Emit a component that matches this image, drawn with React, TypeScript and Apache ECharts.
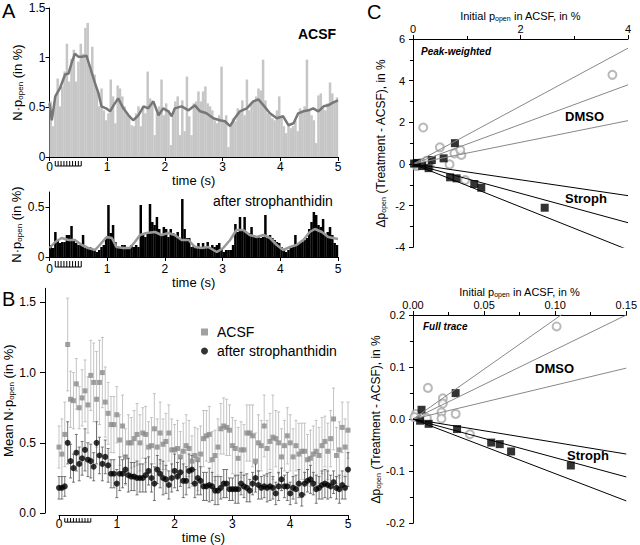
import React, { useEffect, useRef } from "react";
import * as echarts from "echarts";

const FONT = '"Liberation Sans", Arial, Helvetica, sans-serif';

// ---------- Panel A : single traces (40 ms bins) ----------
const BIN_A = 0.04;
const acsfTrace = [
  0.56, 0.31, 0.61, 0.79, 0.51, 0.71, 0.86, 1.14, 0.76, 0.99,
  1.08, 0.76, 0.96, 1.14, 1.04, 1.3, 1.35, 0.88, 1.11, 0.83,
  0.69, 0.51, 0.69, 0.47, 0.37, 0.44, 0.78, 0.61, 0.34, 0.72,
  0.69, 0.61, 0.51, 0.44, 0.42, 0.32, 0.31, 0.44, 0.51, 0.31,
  0.51, 0.44, 0.86, 0.59, 0.57, 0.22, 0.44, 0.51, 0.78, 0.42,
  0.54, 0.47, 0.12, 0.41, 0.56, 0.61, 0.22, 0.57, 0.26, 0.81,
  0.41, 0.22, 0.54,
  0.56, 0.66, 0.56, 0.66, 0.71, 0.54, 0.51, 0.47, 0.37, 0.34,
  0.42, 0.91, 0.37, 0.42, 0.1, 0.31, 0.39, 0.36, 0.49, 0.47,
  0.57, 0.42, 0.78, 0.47, 0.54, 0.57, 0.61, 0.69, 0.67, 0.98,
  0.57, 0.44, 0.42, 0.39, 0.37, 0.47, 0.61, 0.41, 0.31, 0.24,
  0.32, 0.29, 0.31, 0.37, 0.26, 0.49, 0.47, 0.51, 0.98, 0.47,
  0.42, 0.37, 0.14, 0.62, 0.64, 0.49, 0.47, 0.54,
  0.75, 0.64, 0.55, 0.6,
];
const strophTrace = [
  0.12, 0.09, 0.25, 0.17, 0.14, 0.15, 0.15, 0.22, 0.22, 0.31,
  0.17, 0.14, 0.12, 0.12, 0.22, 0.09, 0.09, 0.1, 0.07, 0.07,
  0.05, 0.07, 0.1, 0.12, 0.19, 0.52, 0.24, 0.32, 0.15, 0.1,
  0.09, 0.12, 0.12, 0.09, 0.1, 0.12, 0.1, 0.12, 0.1, 0.52,
  0.22, 0.2, 0.25, 0.53, 0.35, 0.32, 0.4, 0.28, 0.22, 0.3,
  0.28, 0.2, 0.28, 0.24, 0.22, 0.25, 0.19, 0.58, 0.28, 0.19,
  0.19, 0.1,
  0.12, 0.09, 0.14, 0.1, 0.14, 0.09, 0.15, 0.09, 0.12,
  0.1, 0.12, 0.14, 0.09, 0.05, 0.07, 0.07, 0.07, 0.12, 0.33,
  0.25, 0.4, 0.28, 0.4, 0.24, 0.24, 0.3, 0.22, 0.19, 0.2,
  0.19, 0.2, 0.42, 0.2, 0.22, 0.19, 0.17, 0.15, 0.14, 0.1,
  0.07, 0.05, 0.07, 0.09, 0.1, 0.22, 0.12, 0.14, 0.15, 0.17,
  0.19, 0.28, 0.35, 0.45, 0.42, 0.32, 0.3, 0.38, 0.22, 0.25,
  0.3, 0.22, 0.14, 0.12,
];
const acsfSmoothT = [
  0, 0.04, 0.1, 0.18, 0.27, 0.33, 0.38, 0.44, 0.5, 0.56,
  0.64, 0.7, 0.79, 0.85, 0.9, 0.98, 1.05, 1.11, 1.19, 1.28,
  1.37, 1.45, 1.54, 1.63, 1.71, 1.8, 1.89, 1.97, 2.06, 2.12,
  2.17, 2.29, 2.41, 2.52, 2.61, 2.72, 2.84, 2.95, 3.04, 3.13,
  3.21, 3.3, 3.42, 3.53, 3.62, 3.71, 3.82, 3.94, 4.05, 4.14,
  4.23, 4.31, 4.4, 4.49, 4.57, 4.66, 4.75, 4.83, 4.92, 5.0,
];
const acsfSmoothV = [
  0.54, 0.37, 0.61, 0.69, 0.83, 0.84, 0.94, 1.04, 1.01, 1.01,
  1.02, 0.91, 0.74, 0.64, 0.51, 0.49, 0.46, 0.52, 0.59, 0.49,
  0.42, 0.37, 0.42, 0.51, 0.49, 0.56, 0.42, 0.49, 0.46, 0.41,
  0.49, 0.51, 0.47, 0.52, 0.46, 0.44, 0.39, 0.37, 0.36, 0.31,
  0.39, 0.46, 0.49, 0.56, 0.58, 0.52, 0.44, 0.39, 0.41, 0.32,
  0.34, 0.44, 0.46, 0.47, 0.49, 0.46, 0.51, 0.52, 0.55, 0.57,
];
const strophSmoothT = [
  0, 0.1, 0.21, 0.33, 0.44, 0.56, 0.67, 0.79, 0.87, 0.99,
  1.08, 1.16, 1.28, 1.39, 1.48, 1.57, 1.68, 1.83, 1.94, 2.06,
  2.17, 2.29, 2.41, 2.52, 2.64, 2.75, 2.9, 3.01, 3.13, 3.24,
  3.36, 3.47, 3.59, 3.71, 3.82, 3.94, 4.05, 4.17, 4.28, 4.4,
  4.51, 4.6, 4.72, 4.83, 5.0,
];
const strophSmoothV = [
  0.09, 0.15, 0.19, 0.17, 0.17, 0.12, 0.09, 0.07, 0.12, 0.2,
  0.19, 0.1, 0.09, 0.09, 0.15, 0.22, 0.24, 0.25, 0.22, 0.24,
  0.22, 0.17, 0.17, 0.1, 0.09, 0.1, 0.05, 0.09, 0.17, 0.27,
  0.27, 0.22, 0.2, 0.22, 0.19, 0.12, 0.07, 0.1, 0.12, 0.17,
  0.25, 0.28, 0.25, 0.2, 0.18,
];
const stimTimes = [0.1, 0.15, 0.2, 0.25, 0.3, 0.35, 0.4, 0.45, 0.5, 0.55];

// ---------- Panel B : mean traces (50 ms steps) ----------
const STEP_B = 0.05;
const meanAcsf = [
  0.47, 0.42, 0.56, 1.2, 0.81, 0.8, 0.92, 0.75, 0.82,
  0.87, 0.77, 0.98, 0.93, 0.81, 0.93, 1.0, 0.79, 0.71, 0.63,
  0.63, 0.7, 0.52, 0.62, 0.4, 0.5, 0.5, 0.53, 0.56,
  0.5, 0.57, 0.56, 0.47, 0.48, 0.6, 0.47, 0.57, 0.49,
  0.51, 0.57, 0.45, 0.45, 0.46, 0.4, 0.44, 0.48, 0.46,
  0.37, 0.41, 0.38, 0.42, 0.53, 0.55, 0.56, 0.38, 0.41,
  0.47, 0.6, 0.62, 0.61, 0.59, 0.48, 0.46, 0.39, 0.45, 0.45,
  0.57, 0.57, 0.55, 0.37, 0.5, 0.48, 0.62, 0.46, 0.51,
  0.54, 0.53, 0.5, 0.4, 0.48, 0.55, 0.5, 0.4, 0.48, 0.42,
  0.44, 0.44, 0.38, 0.39, 0.42, 0.44, 0.41, 0.48, 0.51,
  0.44, 0.53, 0.67, 0.41, 0.45, 0.61, 0.47, 0.59,
];
const errAcsf = [
  0.15, 0.25, 0.23, 0.33, 0.2, 0.2, 0.18, 0.15, 0.2, 0.22,
  0.2, 0.25, 0.28, 0.34, 0.3, 0.25, 0.25, 0.22, 0.2, 0.2,
  0.2, 0.18, 0.22, 0.2, 0.2, 0.18, 0.2, 0.22, 0.2, 0.18,
  0.2, 0.18, 0.2, 0.25, 0.2, 0.22, 0.18, 0.2, 0.2, 0.22,
  0.18, 0.2, 0.18, 0.2, 0.22, 0.2, 0.18, 0.2, 0.22, 0.2,
  0.2, 0.18, 0.2, 0.2, 0.18, 0.2, 0.18, 0.2, 0.2, 0.18,
  0.2, 0.2, 0.22, 0.2, 0.18, 0.2, 0.2, 0.22, 0.2, 0.2,
  0.18, 0.22, 0.2, 0.2, 0.3, 0.2, 0.22, 0.2, 0.18, 0.2,
  0.2, 0.2, 0.18, 0.22, 0.2, 0.2, 0.18, 0.2, 0.2, 0.22,
  0.2, 0.2, 0.18, 0.2, 0.2, 0.22, 0.2, 0.2, 0.18, 0.2, 0.2,
];
const meanStroph = [
  0.18, 0.18, 0.19, 0.5, 0.37, 0.32, 0.43, 0.35, 0.39,
  0.45, 0.38, 0.37, 0.33, 0.5, 0.41, 0.35, 0.4, 0.34, 0.28,
  0.28, 0.21, 0.28, 0.28, 0.31, 0.27, 0.26, 0.26, 0.25,
  0.25, 0.25, 0.27, 0.3, 0.25, 0.21, 0.31, 0.28, 0.25,
  0.24, 0.2, 0.25, 0.3, 0.26, 0.29, 0.23, 0.23, 0.3,
  0.31, 0.21, 0.25, 0.23, 0.19, 0.19, 0.2, 0.19, 0.16,
  0.16, 0.18, 0.21, 0.21, 0.17, 0.17, 0.17, 0.17, 0.21, 0.19,
  0.18, 0.16, 0.21, 0.25, 0.2, 0.18, 0.19, 0.18, 0.19,
  0.18, 0.14, 0.19, 0.24, 0.19, 0.19, 0.14, 0.18, 0.17, 0.21,
  0.13, 0.21, 0.23, 0.24, 0.21, 0.17, 0.18, 0.2, 0.21,
  0.2, 0.19, 0.22, 0.18, 0.17, 0.2, 0.18, 0.31,
];
const errStroph = [
  0.08, 0.08, 0.07, 0.15, 0.12, 0.1, 0.13, 0.12, 0.12, 0.15,
  0.12, 0.12, 0.1, 0.15, 0.13, 0.12, 0.12, 0.12, 0.1, 0.1,
  0.1, 0.12, 0.1, 0.1, 0.12, 0.1, 0.1, 0.12, 0.1, 0.1,
  0.12, 0.1, 0.1, 0.12, 0.1, 0.1, 0.12, 0.1, 0.1, 0.1,
  0.12, 0.1, 0.1, 0.12, 0.1, 0.12, 0.1, 0.1, 0.12, 0.1,
  0.1, 0.1, 0.12, 0.1, 0.1, 0.1, 0.08, 0.1, 0.1, 0.08,
  0.08, 0.1, 0.1, 0.08, 0.08, 0.1, 0.08, 0.08, 0.1, 0.1,
  0.08, 0.08, 0.1, 0.1, 0.08, 0.08, 0.1, 0.08, 0.08, 0.1,
  0.08, 0.08, 0.1, 0.1, 0.08, 0.08, 0.08, 0.1, 0.08, 0.1,
  0.08, 0.1, 0.1, 0.1, 0.08, 0.08, 0.08, 0.1, 0.1, 0.08, 0.12,
];

// ---------- Panel C : change in p_open vs initial p_open ----------
const peakDmso = [
  [3.71, 4.28], [0.19, 1.75], [0.5, 0.8], [0.77, 0.51], [0.9, 0.43], [0.88, 0.67],
  [0.68, -0.02], [0.97, -0.77], [0.07, -0.1], [0.31, -0.1], [0.05, 0.0], [0.25, 0.15], [0.15, 0.05],
];
const peakStroph = [
  [0.78, 1.0], [0.57, 0.27], [0.35, 0.19], [0.07, 0.05], [0.29, -0.2], [0.69, -0.64],
  [0.81, -0.69], [1.14, -0.96], [1.27, -1.14], [2.45, -2.1], [0.17, -0.1], [0.02, 0.02],
];
const PEAK_X_END = 4;
const peakDmsoFitEnds = [5.56, 3.8, 2.08];
const peakStrophFitEnds = [-1.52, -2.82, -4.12];

const fullDmso = [
  [0.101, 0.178], [0.0105, 0.06], [0.021, 0.04], [0.021, 0.03], [0.02, 0.013], [0.02, 0.001],
  [0.03, 0.01], [0.04, -0.029], [0.0098, 0.002], [0.002, 0.01], [0.001, 0.004],
];
const fullStroph = [
  [0.03, 0.05], [0.006, 0.018], [0.005, -0.003], [0.011, -0.009], [0.031, -0.019],
  [0.055, -0.045], [0.061, -0.048], [0.069, -0.062], [0.111, -0.089],
];
const FULL_X_END = 0.15;
const fullDmsoFitEnds = [0.288, 0.2, 0.098];
const fullStrophFitEnds = [-0.067, -0.111, -0.157];

// ---------- helpers ----------
function subStyle(size: number, pad: number) {
  return { fontSize: size, fontFamily: FONT, color: "#000", padding: [pad, 0, 0, 0] };
}

function nameStyle(size: number, subSize: number, pad: number) {
  return {
    color: "#000",
    fontSize: size,
    fontFamily: FONT,
    rich: {
      sb: subStyle(subSize, pad),
    },
  };
}

function axisStyle(fontSize: number, extra: any) {
  return {
    type: "value",
    splitLine: { show: false },
    axisLine: { show: true, onZero: false, lineStyle: { color: "#000", width: 1 } },
    axisTick: { show: true, length: 4, lineStyle: { color: "#000", width: 1 } },
    axisLabel: { color: "#000", fontSize, fontFamily: FONT },
    nameLocation: "middle",
    nameTextStyle: nameStyle(13, 8, 6),
    ...extra,
  };
}

function histSeries(name: string, values: number[], color: string, axisIdx: number) {
  return {
    name,
    type: "custom",
    xAxisIndex: axisIdx,
    yAxisIndex: axisIdx,
    encode: { x: 0, y: 1 },
    data: values.map((v, i) => [i * BIN_A, v]),
    renderItem: (params: any, api: any) => {
      const t = api.value(0);
      const v = api.value(1);
      const p0 = api.coord([t, 0]);
      const p1 = api.coord([t + BIN_A, v]);
      return {
        type: "rect",
        shape: { x: p0[0], y: p1[1], width: p1[0] - p0[0] + 0.2, height: p0[1] - p1[1] },
        style: { fill: color },
      };
    },
  };
}

function stimSeries(axisIdx: number, dy1: number, dy2: number) {
  return {
    name: "stim" + axisIdx,
    type: "custom",
    xAxisIndex: axisIdx,
    yAxisIndex: axisIdx,
    clip: false,
    encode: { x: 0 },
    data: stimTimes.map((t) => [t, 0]),
    renderItem: (params: any, api: any) => {
      const p = api.coord([api.value(0), 0]);
      const children: any[] = [
        { type: "line", shape: { x1: p[0], y1: p[1] + dy1, x2: p[0], y2: p[1] + dy2 }, style: { stroke: "#000", lineWidth: 1 } },
      ];
      if (params.dataIndex === 0) {
        const pe = api.coord([stimTimes[stimTimes.length - 1], 0]);
        children.push({ type: "line", shape: { x1: p[0], y1: p[1] + dy2, x2: pe[0], y2: p[1] + dy2 }, style: { stroke: "#000", lineWidth: 1 } });
      }
      return { type: "group", children };
    },
  };
}

function errSeries(name: string, means: number[], errs: number[], color: string) {
  return {
    name,
    type: "custom",
    xAxisIndex: 2,
    yAxisIndex: 2,
    encode: { x: 0, y: [1, 2] },
    data: means.map((m, i) => [i * STEP_B, m - errs[i], m + errs[i]]),
    renderItem: (params: any, api: any) => {
      const t = api.value(0);
      const lo = api.coord([t, api.value(1)]);
      const hi = api.coord([t, api.value(2)]);
      const st = { stroke: color, lineWidth: 0.8 };
      return {
        type: "group",
        children: [
          { type: "line", shape: { x1: lo[0], y1: lo[1], x2: hi[0], y2: hi[1] }, style: st },
          { type: "line", shape: { x1: hi[0] - 1.5, y1: hi[1], x2: hi[0] + 1.5, y2: hi[1] }, style: st },
          { type: "line", shape: { x1: lo[0] - 1.5, y1: lo[1], x2: lo[0] + 1.5, y2: lo[1] }, style: st },
        ],
      };
    },
  };
}

function fitLines(prefix: string, ends: number[], xEnd: number, color: string, axisIdx: number) {
  return ends.map((yEnd, i) => ({
    name: prefix + i,
    type: "line",
    xAxisIndex: axisIdx,
    yAxisIndex: axisIdx,
    symbol: "none",
    clip: true,
    lineStyle: { color, width: 1 },
    data: [[0, 0], [xEnd, yEnd]],
  }));
}

function label(text: string, left: number, top: number, fontSize: number, extra: any = {}) {
  return {
    type: "text",
    left,
    top,
    style: { text, fontSize, fontFamily: FONT, fill: "#000", ...extra },
  };
}

const option: any = {
  animation: false,
  backgroundColor: "#fff",
  textStyle: { fontFamily: FONT, color: "#000" },
  grid: [
    { left: 49.5, top: 8, width: 288.5, height: 149 },
    { left: 49.5, top: 192, width: 288.5, height: 65 },
    { left: 59, top: 288.3, width: 289, height: 228.7 },
    { left: 413, top: 39, width: 215, height: 208.3 },
    { left: 413, top: 315, width: 215, height: 208.3 },
  ],
  xAxis: [
    axisStyle(12, { gridIndex: 0, min: 0, max: 5, interval: 1, name: "time (s)", nameGap: 16,
      axisLabel: { color: "#000", fontSize: 12, fontFamily: FONT, margin: 4 } }),
    axisStyle(12, { gridIndex: 1, min: 0, max: 5, interval: 1, name: "time (s)", nameGap: 16,
      axisLabel: { color: "#000", fontSize: 12, fontFamily: FONT, margin: 6 } }),
    axisStyle(12, { gridIndex: 2, min: 0, max: 5, interval: 1, offset: 2, name: "time (s)", nameGap: 11,
      axisLabel: { color: "#000", fontSize: 12, fontFamily: FONT, margin: 3 } }),
    axisStyle(11, { gridIndex: 3, position: "top", min: 0, max: 4, interval: 2,
      minorTick: { show: true, splitNumber: 2, length: 3, lineStyle: { color: "#000" } },
      name: "Initial p{sb|open} in ACSF, in %", nameGap: 17,
      nameTextStyle: nameStyle(11, 7, 5),
      axisLabel: { color: "#000", fontSize: 11, fontFamily: FONT, margin: 5 } }),
    axisStyle(11, { gridIndex: 4, position: "top", min: 0, max: 0.15, interval: 0.05,
      minorTick: { show: true, splitNumber: 2, length: 3, lineStyle: { color: "#000" } },
      name: "Initial p{sb|open} in ACSF, in %", nameGap: 17,
      nameTextStyle: nameStyle(11, 7, 5),
      axisLabel: { color: "#000", fontSize: 11, fontFamily: FONT, margin: 5, formatter: (v: number) => v.toFixed(2) } }),
  ],
  yAxis: [
    axisStyle(12, { gridIndex: 0, min: 0, max: 1.5, interval: 0.5, name: "N\u00B7p{sb|open} (in %)", nameGap: 23,
      axisLabel: { color: "#000", fontSize: 12, fontFamily: FONT, margin: 4 } }),
    axisStyle(12, { gridIndex: 1, min: 0, max: 0.65, interval: 0.5, name: "N\u00B7p{sb|open} (in %)", nameGap: 23,
      axisTick: { show: true, length: 4, customValues: [0, 0.5], lineStyle: { color: "#000" } },
      axisLabel: { color: "#000", fontSize: 12, fontFamily: FONT, margin: 5, customValues: [0, 0.5] } }),
    axisStyle(12, { gridIndex: 2, min: 0, max: 1.6, interval: 0.5, offset: 14, name: "Mean N\u00B7p{sb|open} (in %)", nameGap: 28,
      axisTick: { show: true, length: 5, customValues: [0, 0.5, 1, 1.5], lineStyle: { color: "#000" } },
      axisLabel: { color: "#000", fontSize: 12, fontFamily: FONT, margin: 9, customValues: [0, 0.5, 1, 1.5], formatter: (v: number) => v.toFixed(1) } }),
    axisStyle(11, { gridIndex: 3, min: -4, max: 6, interval: 2,
      minorTick: { show: true, splitNumber: 2, length: 3, lineStyle: { color: "#000" } },
      name: "\u0394p{sb|open} (Treatment - ACSF), in %", nameGap: 26,
      nameTextStyle: nameStyle(12, 7, 5),
      axisLabel: { color: "#000", fontSize: 11, fontFamily: FONT, margin: 8 } }),
    axisStyle(11, { gridIndex: 4, min: -0.2, max: 0.2, interval: 0.1,
      minorTick: { show: true, splitNumber: 2, length: 3, lineStyle: { color: "#000" } },
      name: "\u0394p{sb|open} (Treatment - ACSF), in %", nameGap: 26,
      nameTextStyle: nameStyle(12, 7, 5),
      axisLabel: { color: "#000", fontSize: 11, fontFamily: FONT, margin: 8, formatter: (v: number) => v.toFixed(1) } }),
  ],
  legend: {
    data: [
      { name: "ACSF", icon: "rect" },
      { name: "after strophanthidin", icon: "circle" },
    ],
    orient: "vertical",
    left: 196,
    top: 320,
    itemWidth: 7,
    itemHeight: 7,
    itemGap: 5,
    selectedMode: false,
    textStyle: { color: "#000", fontSize: 14, fontFamily: FONT, padding: [0, 0, 0, 4] },
  },
  graphic: [
    label("A", 2, 1, 20),
    label("B", 2, 289, 20),
    label("C", 367, 2, 20),
    label("ACSF", 298, 27, 14, { fontWeight: "bold" }),
    label("after strophanthidin", 213, 194, 14),
    label("Peak-weighted", 421, 46, 10, { fontWeight: "bold", fontStyle: "italic" }),
    label("DMSO", 565, 110, 13, { fontWeight: "bold" }),
    label("Stroph", 565, 192, 13, { fontWeight: "bold" }),
    label("Full trace", 423, 321, 10, { fontWeight: "bold", fontStyle: "italic" }),
    label("DMSO", 535, 362, 13, { fontWeight: "bold" }),
    label("Stroph", 567, 449, 13, { fontWeight: "bold" }),
  ],
  series: [
    // A top
    histSeries("acsfTrace", acsfTrace, "#c6c6c6", 0),
    {
      name: "acsfSmooth", type: "line", xAxisIndex: 0, yAxisIndex: 0, symbol: "none",
      lineStyle: { color: "#777", width: 2.5 },
      data: acsfSmoothT.map((t, i) => [t, acsfSmoothV[i]]),
    },
    stimSeries(0, 4, 9),
    // A bottom
    histSeries("strophTrace", strophTrace, "#000", 1),
    {
      name: "strophSmooth", type: "line", xAxisIndex: 1, yAxisIndex: 1, symbol: "none",
      lineStyle: { color: "#999", width: 2.5 },
      data: strophSmoothT.map((t, i) => [t, strophSmoothV[i]]),
    },
    stimSeries(1, 4, 10),
    // B
    errSeries("acsfErr", meanAcsf, errAcsf, "#b5b5b5"),
    {
      name: "ACSF", type: "scatter", xAxisIndex: 2, yAxisIndex: 2, symbol: "rect", symbolSize: 5,
      itemStyle: { color: "#8a8a8a" },
      data: meanAcsf.map((v, i) => [i * STEP_B, v]),
    },
    errSeries("strophErr", meanStroph, errStroph, "#555"),
    {
      name: "after strophanthidin", type: "scatter", xAxisIndex: 2, yAxisIndex: 2, symbol: "circle", symbolSize: 6,
      itemStyle: { color: "#000" },
      data: meanStroph.map((v, i) => [i * STEP_B, v]),
    },
    stimSeries(2, 5, 9),
    // C top
    ...fitLines("peakDmsoFit", peakDmsoFitEnds, PEAK_X_END, "#888", 3),
    ...fitLines("peakStrophFit", peakStrophFitEnds, PEAK_X_END, "#000", 3),
    {
      name: "peakDmso", type: "scatter", xAxisIndex: 3, yAxisIndex: 3, symbol: "circle", symbolSize: 8,
      itemStyle: { color: "#fff", borderColor: "#a8a8a8", borderWidth: 2 },
      data: peakDmso,
    },
    {
      name: "peakStroph", type: "scatter", xAxisIndex: 3, yAxisIndex: 3, symbol: "rect", symbolSize: 8,
      itemStyle: { color: "#000" },
      data: peakStroph,
    },
    // C bottom
    ...fitLines("fullDmsoFit", fullDmsoFitEnds, FULL_X_END, "#888", 4),
    ...fitLines("fullStrophFit", fullStrophFitEnds, FULL_X_END, "#000", 4),
    {
      name: "fullDmso", type: "scatter", xAxisIndex: 4, yAxisIndex: 4, symbol: "circle", symbolSize: 8,
      itemStyle: { color: "#fff", borderColor: "#a8a8a8", borderWidth: 2 },
      data: fullDmso,
    },
    {
      name: "fullStroph", type: "scatter", xAxisIndex: 4, yAxisIndex: 4, symbol: "rect", symbolSize: 8,
      itemStyle: { color: "#000" },
      data: fullStroph,
    },
  ],
};

export default function App() {
  const ref = useRef<HTMLDivElement>(null);
  useEffect(() => {
    const chart = echarts.init(ref.current as HTMLDivElement, null, { renderer: "svg" });
    chart.setOption(option);
    return () => chart.dispose();
  }, []);
  return (
    <div
      ref={ref}
      style={{ position: "fixed", left: 0, top: 0, width: 640, height: 545, background: "#fff" }}
    />
  );
}
